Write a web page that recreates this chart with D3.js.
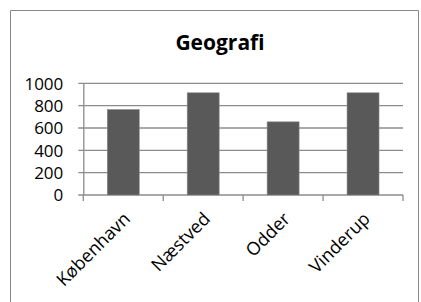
<!DOCTYPE html>
<html>
<head>
<meta charset="utf-8">
<script src="https://cdn.jsdelivr.net/npm/d3@7"></script>
<style>
  body { margin: 0; background: #fff; }
  text { font-family: "Open Sans", sans-serif; fill: #000; }
</style>
</head>
<body>
<script>
const byer = ["København", "Næstved", "Odder", "Vinderup"];
const vaerdier = [765, 915, 655, 915];
const yTicks = [0, 200, 400, 600, 800, 1000];

const w = 421, h = 302;
const mLeft = 83.3, mRight = 403, mTop = 83.3, mBottom = 195;

const svg = d3.select("body").append("svg")
  .attr("width", w)
  .attr("height", h);

// chart frame (bottom edge is off the picture)
svg.append("path")
  .attr("d", `M10.5,${h} V10.5 H418.5 V${h}`)
  .attr("fill", "none")
  .attr("stroke", "#878787")
  .attr("stroke-width", 1);

svg.append("text")
  .attr("x", 220)
  .attr("y", 50)
  .attr("text-anchor", "middle")
  .attr("font-size", 21)
  .attr("font-weight", "bold")
  .text("Geografi");

const x = d3.scaleBand().domain(byer).range([mLeft, mRight]).paddingInner(0.6).paddingOuter(0.3);
const xEdge = d3.scaleLinear().domain([0, byer.length]).range([mLeft, mRight]);
const y = d3.scaleLinear().domain([0, 1000]).range([mBottom, mTop]);

// gridlines
svg.append("g").selectAll("line")
  .data(yTicks)
  .enter()
  .append("line")
  .attr("x1", mLeft - 5)
  .attr("x2", mRight)
  .attr("y1", d => y(d))
  .attr("y2", d => y(d))
  .attr("stroke", "#8c8c8c")
  .attr("stroke-width", 1.3);

// y axis
const yAxis = d3.axisLeft(y).tickValues(yTicks).tickFormat(d3.format("d")).tickSize(0).tickPadding(20);
const gy = svg.append("g").attr("transform", `translate(${mLeft},0)`).call(yAxis);
gy.select(".domain").attr("stroke", "#8c8c8c").attr("stroke-width", 1.3);
gy.selectAll("text").attr("font-size", 17).attr("font-family", "Open Sans").attr("dy", "0.35em");

// category boundary ticks
svg.append("g").selectAll("line")
  .data(d3.range(byer.length + 1))
  .enter()
  .append("line")
  .attr("x1", d => xEdge(d))
  .attr("x2", d => xEdge(d))
  .attr("y1", mBottom)
  .attr("y2", mBottom + 6)
  .attr("stroke", "#8c8c8c")
  .attr("stroke-width", 1.3);

// bars
svg.append("g").selectAll("rect")
  .data(vaerdier)
  .enter()
  .append("rect")
  .attr("x", (d, i) => x(byer[i]))
  .attr("y", d => y(d))
  .attr("width", x.bandwidth())
  .attr("height", d => mBottom - y(d))
  .attr("fill", "#595959")
  .attr("stroke", "#8a8a8a")
  .attr("stroke-width", 0.6);

// x labels
svg.append("g").selectAll("text")
  .data(byer)
  .enter()
  .append("text")
  .attr("transform", d => `translate(${x(d) + x.bandwidth() / 2 + 8},${mBottom + 25}) rotate(-45)`)
  .attr("text-anchor", "end")
  .attr("font-size", 18)
  .text(d => d);
</script>
</body>
</html>
